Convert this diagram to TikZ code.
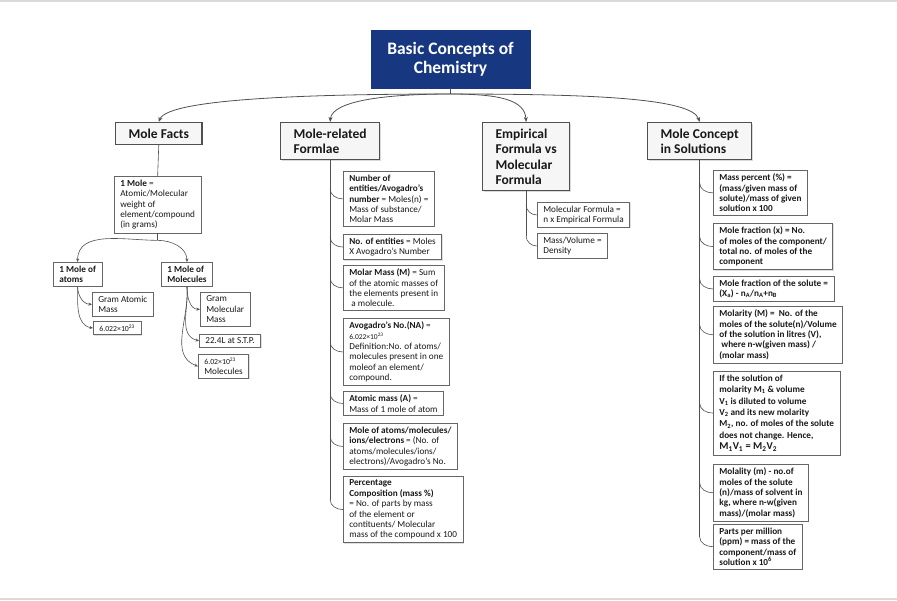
\documentclass[tikz,border=0pt]{standalone}
\usepackage{fontspec}
\setmainfont{Carlito}
\usetikzlibrary{arrows.meta,calc,shadows}
\definecolor{navy}{RGB}{23,55,128}
\definecolor{lin}{RGB}{80,80,80}
\definecolor{txt}{RGB}{25,25,25}
\definecolor{hfill}{RGB}{246,246,246}
\definecolor{rulecol}{RGB}{217,217,217}
\begin{document}
\begin{tikzpicture}[x=1pt,y=-1pt,
 rootbox/.style={draw=navy, fill=navy, text=white, font=\fontsize{17.5}{19.5}\selectfont\bfseries, align=center, minimum width=159pt, minimum height=58pt, inner sep=0pt},
 headbox/.style={draw=lin, line width=1.1pt, fill=hfill, text=txt, font=\fontsize{13.5}{15.5}\selectfont\bfseries, align=left, inner xsep=13pt, inner ysep=6pt, anchor=north west, drop shadow={shadow xshift=1pt,shadow yshift=-1pt,opacity=0.3}},
 itembox/.style={draw=black!60, line width=0.7pt, fill=white, text=txt, font=\fontsize{9.2}{10.4}\selectfont, align=left, inner xsep=6pt, inner ysep=3.5pt, anchor=north west, drop shadow={shadow xshift=0.8pt,shadow yshift=-0.8pt,opacity=0.25}},
 boldbox/.style={itembox, font=\fontsize{9.2}{10.4}\selectfont\bfseries},
 link/.style={draw=lin, line width=0.8pt},
 arr/.style={link, -{Stealth[length=5pt,width=4pt]}},
 sarr/.style={link, line width=0.6pt, -{Stealth[length=3.5pt,width=3pt]}},
 tree/.style={link, line width=0.6pt}
]
\useasboundingbox (0,0) rectangle (897,600);
\fill[rulecol] (0,0) rectangle (897,2);
\fill[rulecol] (0,598) rectangle (897,600);

% root and headings
\node[rootbox] (root) at (450.5,59) {Basic Concepts of\\Chemistry};
\node[headbox] (h1) at (115,122) {Mole Facts};
\node[headbox] (h2) at (280,122) {Mole-related\\Formlae};
\node[headbox] (h3) at (482,122) {Empirical\\Formula vs\\Molecular\\Formula};
\node[headbox] (h4) at (647,122) {Mole Concept\\in Solutions};

\coordinate (rj) at (450.5,94);
\draw[link] (root.south) -- (rj);
\draw[arr] (rj) .. controls (320,94) and (168,98) .. (h1.north);
\draw[arr] (rj) .. controls (390,94) and (332,100) .. (h2.north);
\draw[arr] (rj) .. controls (500,94) and (525,100) .. (h3.north);
\draw[arr] (rj) .. controls (590,94) and (692,98) .. (h4.north);

% Mole Facts
\node[itembox] (m1) at (114,176) {\textbf{1 Mole} =\\Atomic/Molecular\\weight of\\element/compound\\(in grams)};
\node[boldbox] (atoms) at (53,262) {1 Mole of\\atoms};
\node[boldbox] (mols) at (161,262) {1 Mole of\\Molecules};
\node[itembox] (gam) at (92,292) {Gram Atomic\\Mass};
\node[itembox] (avoa) at (93,321) {\fontsize{7.8}{9}\selectfont 6.022×10\textsuperscript{23}};
\node[itembox] (gmm) at (200,292) {Gram\\Molecular\\Mass};
\node[itembox] (stp) at (199,334) {22.4L at S.T.P.};
\node[itembox] (avob) at (198,354) {{\fontsize{7.8}{9}\selectfont 6.02×10\textsuperscript{23}}\\Molecules};

\draw[tree] (h1.south) -- (m1.north);
\coordinate (mj) at ($(m1.south)+(0,7)$);
\draw[tree] (m1.south) -- (mj);
\draw[sarr] (mj) to[out=180,in=90] (atoms.north);
\draw[sarr] (mj) to[out=0,in=90] (mols.north);
\draw[sarr] (atoms.south) to[out=-90,in=180] (gam.west);
\draw[sarr] (atoms.south) to[out=-90,in=170] (avoa.west);
\draw[sarr] (mols.south) to[out=-90,in=180] (gmm.west);
\draw[sarr] (mols.south) to[out=-85,in=165] (stp.west);
\draw[sarr] (mols.south) to[out=-85,in=160] (avob.west);

% Mole-related formulae
\node[itembox] (mA) at (343,171) {\textbf{Number of}\\\textbf{entities/Avogadro's}\\\textbf{number} = Moles(n) =\\Mass of substance/\\Molar Mass};
\node[itembox] (mB) at (343,234) {\textbf{No. of entities} = Moles\\X Avogadro's Number};
\node[itembox] (mC) at (343,265) {\textbf{Molar Mass (M)} = Sum\\of the atomic masses of\\the elements present in\\\ a molecule.};
\node[itembox] (mD) at (343,318) {\textbf{Avogadro's No.(NA)} =\\{\fontsize{7.5}{9}\selectfont 6.022×10\textsuperscript{23}}\\Definition:No. of atoms/\\molecules present in one\\moleof an element/\\compound.};
\node[itembox] (mE) at (343,391) {\textbf{Atomic mass (A)} =\\Mass of 1 mole of atom};
\node[itembox] (mF) at (343,423) {\textbf{Mole of atoms/molecules/}\\\textbf{ions/electrons} = (No. of\\atoms/molecules/ions/\\electrons)/Avogadro's No.};
\node[itembox] (mG) at (343,476) {\textbf{Percentage}\\\textbf{Composition (mass \%)}\\= No. of parts by mass\\of the element or\\contituents/ Molecular\\mass of the compound x 100};

\draw[tree] (h2.south) -- ($(h2.south |- mG.west)+(0,-10)$);
\foreach \n in {mA,mB,mC,mD,mE,mF,mG}
  \draw[tree] ($(h2.south |- \n.west)+(0,-10)$) to[out=-90,in=180] (\n.west);

% Empirical formula
\node[itembox] (e1) at (537,202) {Molecular Formula =\\n x Empirical Formula};
\node[itembox] (e2) at (537,233) {Mass/Volume =\\Density};
\draw[tree] (h3.south) -- ($(h3.south |- e2.west)+(0,-10)$);
\foreach \n in {e1,e2}
  \draw[tree] ($(h3.south |- \n.west)+(0,-10)$) to[out=-90,in=180] (\n.west);

% Mole concept in solutions
\node[boldbox] (c1) at (713,170) {Mass percent (\%) =\\(mass/given mass of\\solute)/mass of given\\solution x 100};
\node[boldbox] (c2) at (713,223) {Mole fraction (x) = No.\\of moles of the component/\\total no. of moles of the\\component};
\node[boldbox] (c3) at (713,276) {Mole fraction of the solute =\\(X\textsubscript{a}) - n\textsubscript{A}/n\textsubscript{A}+n\textsubscript{B}};
\node[boldbox] (c4) at (713,306) {Molarity (M) = \ No. of the\\moles of the solute(n)/Volume\\of the solution in litres (V),\\\ where n-w(given mass) /\\(molar mass)};
\node[boldbox, font=\fontsize{9.2}{11.4}\selectfont\bfseries] (c5) at (713,371) {If the solution of\\molarity M\textsubscript{1} \& volume\\V\textsubscript{1} is diluted to volume\\V\textsubscript{2} and its new molarity\\M\textsubscript{2}, no. of moles of the solute\\does not change. Hence,\\{\fontsize{10.5}{11.4}\selectfont M\textsubscript{1}V\textsubscript{1} = M\textsubscript{2}V\textsubscript{2}}};
\node[boldbox] (c6) at (713,464) {Molality (m) - no.of\\moles of the solute\\(n)/mass of solvent in\\kg, where n-w(given\\mass)/(molar mass)};
\node[boldbox] (c7) at (713,524) {Parts per million\\(ppm) = mass of the\\component/mass of\\solution x 10\textsuperscript{6}};

\draw[tree] (h4.south) -- ($(h4.south |- c7.west)+(0,-10)$);
\foreach \n in {c1,c2,c3,c4,c5,c6,c7}
  \draw[tree] ($(h4.south |- \n.west)+(0,-10)$) to[out=-90,in=180] (\n.west);
\end{tikzpicture}
\end{document}
